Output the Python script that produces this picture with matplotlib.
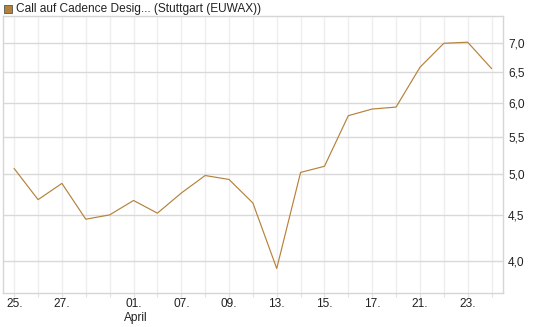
import matplotlib
matplotlib.use("Agg")
import matplotlib.pyplot as plt
from matplotlib.patches import Rectangle
from matplotlib.ticker import FixedLocator, NullLocator

plt.rcParams["font.family"] = ["Liberation Sans", "DejaVu Sans"]

# trading days shown on the x axis (labels only on every other day)
day_labels = ["25.", "", "27.", "", "", "01.", "", "07.", "", "09.", "",
              "13.", "", "15.", "", "17.", "", "21.", "", "23.", ""]
prices = [5.07, 4.68, 4.88, 4.45, 4.50, 4.67, 4.52, 4.76, 4.98, 4.93, 4.64,
          3.92, 5.02, 5.10, 5.81, 5.91, 5.94, 6.58, 7.00, 7.02, 6.56]
y_ticks = [4.0, 4.5, 5.0, 5.5, 6.0, 6.5, 7.0]
title = "Call auf Cadence Desig... (Stuttgart (EUWAX))"
line_color = "#b5823c"
fs = 8.6

fig = plt.figure(figsize=(5.45, 3.27), dpi=100)
ax = fig.add_axes([2.5 / 545, 1 - 293 / 327, 500 / 545, 277 / 327])

x = list(range(len(prices)))
ax.plot(x, prices, color=line_color, lw=0.85)

ax.set_yscale("log")
ax.set_ylim(3.68, 7.51)
ax.set_xlim(-0.49, 20.46)
ax.yaxis.set_major_locator(FixedLocator(y_ticks))
ax.yaxis.set_minor_locator(NullLocator())
ax.set_yticklabels([f"{v:.1f}".replace(".", ",") for v in y_ticks])
ax.yaxis.tick_right()
ax.set_xticks(x)
ax.set_xticklabels(day_labels)

ax.tick_params(axis="y", length=0, labelsize=fs, pad=4, colors="#222222")
ax.tick_params(axis="x", length=3, color="#e0e0e0", labelsize=fs, pad=0.5,
               colors="#222222")
for lab in ax.get_xticklabels():
    lab.set_color("#222222")

ax.grid(axis="y", color="#d9d9d9", lw=1.0)
ax.grid(axis="x", color="#eeeeee", lw=1.0)
ax.set_axisbelow(True)
for s in ax.spines.values():
    s.set_color("#d6d6d6")
    s.set_linewidth(1.0)

# month label under the first April day
ax.text(5.1, -0.068, "April", transform=ax.get_xaxis_transform(),
        ha="center", va="top", fontsize=fs, color="#222222")

# title with colored square like a legend key
fig.patches.append(Rectangle((4 / 545, 1 - 13 / 327), 8 / 545, 8 / 327,
                             transform=fig.transFigure, facecolor=line_color,
                             edgecolor="#555555", lw=0.6))
fig.text(16 / 545, 1 - 9 / 327, title, ha="left", va="center",
         fontsize=fs, color="#222222")

fig.savefig("out.png", dpi=100)
